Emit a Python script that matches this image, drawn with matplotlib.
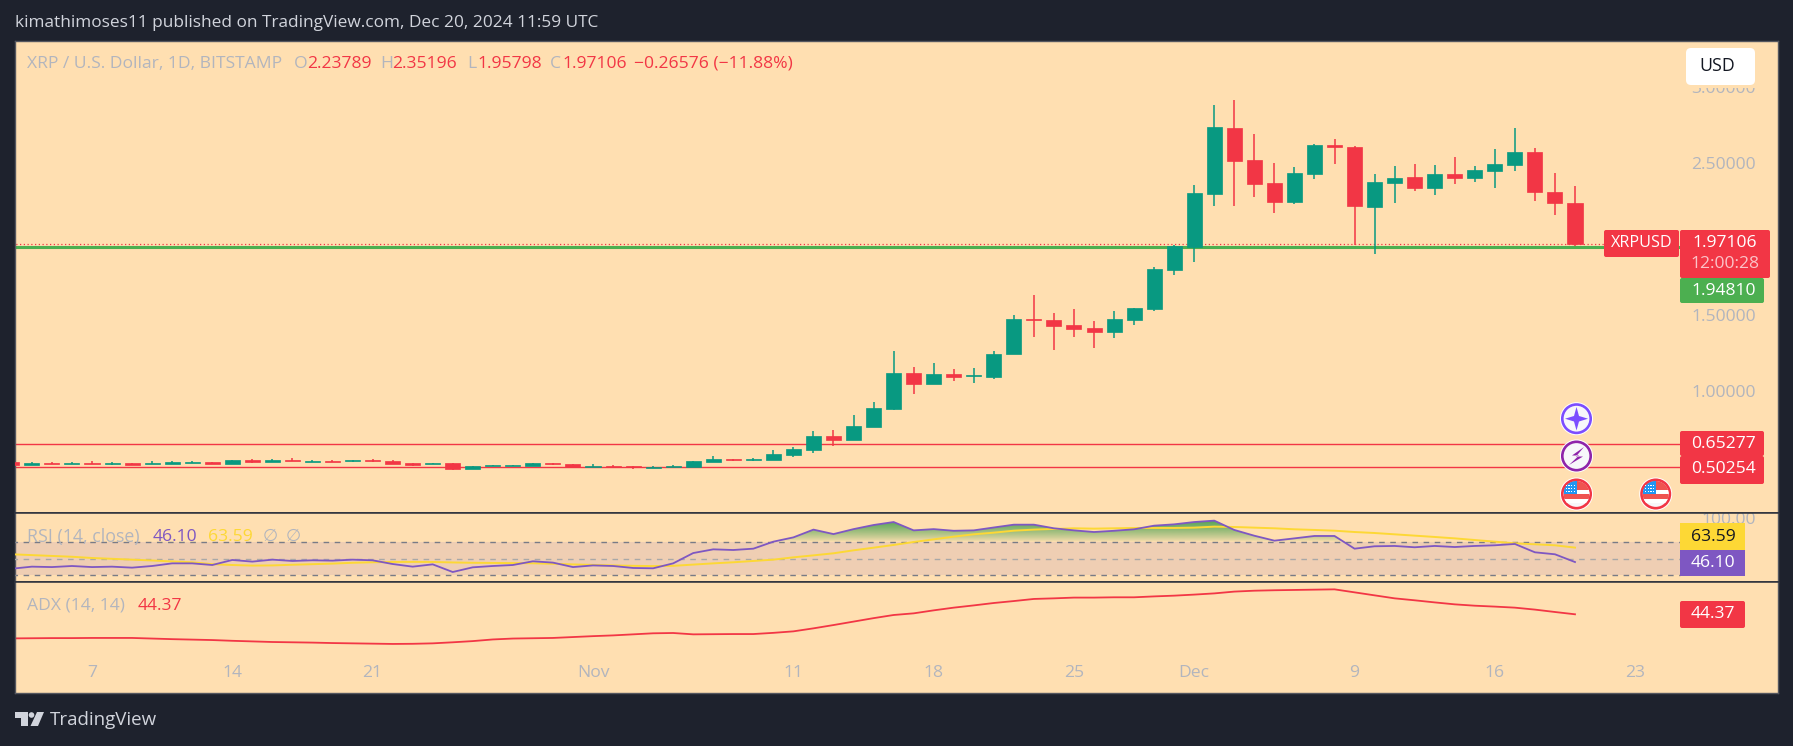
import numpy as np
import pandas as pd
import matplotlib
matplotlib.use("Agg")
import matplotlib.pyplot as plt
from matplotlib.patches import Rectangle, FancyBboxPatch, Circle, Polygon
from matplotlib.path import Path

plt.rcParams['font.family'] = ['Open Sans', 'DejaVu Sans']

# ---------- data ----------
dates = pd.date_range('2024-10-03', '2024-12-20')
opens = [.5367,.5170,.5301,.5257,.5301,.5257,.5301,.5257,.5236,.5301,.5367,.5236,.5498,.5367,.5498,.5389,.5433,.5454,.5498,.5433,
         .5301,.5257,.5301,.4907,.5126,.5126,.5104,.5301,.5236,.5038,.5104,.5104,.4995,.5017,.5038,.5367,.5564,.5520,
         .5498,.5827,.6155,.7075,.6812,.7666,.8849,1.1214,1.0492,1.1149,1.1039,1.0952,1.2463,1.4762,1.4696,1.4368,1.4171,1.3908,1.4696,1.5419,1.7981,
         1.9515,2.2975,2.7311,2.5209,2.3697,2.2449,2.4289,2.6194,2.6063,2.2120,2.3697,2.4091,2.3369,2.4289,2.4026,2.4486,2.4880,2.5734,2.3106,2.23789]
highs = [.5367,.5367,.5367,.5367,.5433,.5367,.5301,.5433,.5433,.5433,.5367,.5498,.5564,.5564,.5630,.5498,.5498,.5498,.5564,.5498,
         .5301,.5301,.5301,.5104,.5170,.5170,.5301,.5301,.5236,.5236,.5170,.5104,.5104,.5170,.5433,.5761,.5564,.5630,
         .6155,.6352,.7404,.7469,.8455,.9309,1.2660,1.1608,1.1871,1.1477,1.1543,1.2660,1.5025,1.6339,1.5156,1.5419,1.4631,1.5288,1.5485,1.8179,1.9624,
         2.3566,2.8822,2.9151,2.6917,2.5011,2.4749,2.6260,2.6588,2.6128,2.4289,2.4814,2.4946,2.4880,2.5406,2.4814,2.5931,2.7311,2.5997,2.4354,2.35196]
lows = [.5170,.5170,.5236,.5257,.5257,.5170,.5170,.5257,.5236,.5301,.5236,.5236,.5301,.5367,.5433,.5389,.5389,.5367,.5367,.5236,
        .5104,.5257,.4842,.4907,.5126,.5126,.5104,.5170,.5017,.5038,.5017,.4907,.4995,.5017,.5038,.5367,.5433,.5455,
        .5498,.5695,.5958,.6418,.6812,.7666,.8783,.9832,1.0492,1.0689,1.0558,1.0820,1.2463,1.3580,1.2725,1.3580,1.2857,1.3514,1.4368,1.5288,1.7653,
        1.8507,2.2186,2.2186,2.2778,2.1726,2.2318,2.3960,2.4946,1.9624,1.9033,2.2383,2.3172,2.2909,2.3632,2.3763,2.3369,2.4486,2.2515,2.1595,1.95798]
closes = [.5170,.5301,.5257,.5301,.5257,.5301,.5170,.5301,.5367,.5367,.5236,.5498,.5367,.5498,.5433,.5433,.5389,.5498,.5433,.5236,
          .5170,.5301,.4907,.5104,.5170,.5170,.5301,.5257,.5017,.5104,.5017,.5017,.5038,.5104,.5433,.5564,.5498,.5564,
          .5893,.6221,.7075,.6812,.7732,.8915,1.1214,1.0492,1.1149,1.0952,1.1083,1.2463,1.4762,1.4718,1.4302,1.4105,1.3908,1.4762,1.5485,1.8047,1.9558,
          2.3040,2.7377,2.5143,2.3632,2.2449,2.4354,2.6194,2.6063,2.2186,2.3763,2.4026,2.3369,2.4289,2.4026,2.4552,2.4946,2.5734,2.3106,2.2383,1.97106]
rsi = [38,40.5,40,41.3,40,40.5,39.3,41.3,44.5,44.5,42.5,48.6,46.6,49,47.4,48.2,47.8,49,48.2,43.7,40.5,43.3,34,39.7,41.3,42.5,47,45.4,40,42,41.3,38.9,38.5,44.5,57,
       61.5,60.7,62.3,70.8,76,85.4,80,86,91,94.6,84.5,86,84,84.5,88,91.4,91.4,87,84.5,82.5,84,85.8,90.2,91.8,94.6,
       96.3,85,78,72,74.8,77.7,77.7,62.3,65.2,65.6,64,65.6,64.3,65.6,66.4,68,57.9,55.5,46.10]
rsi_ma = [55.5,54.5,53.5,52.5,51,50,49,48,46.8,45.8,43.5,42.5,41.8,42,42.8,43.5,44.2,45.2,45.8,46.2,46.3,46.2,45.6,45.2,45,44.8,44.6,44,43.2,42.6,42,41.5,41.2,41.5,43,
          44.5,45.8,47.4,49,51.8,54.2,56.7,60.3,63.5,66.8,70.4,73.6,76.9,79.7,81.7,84.1,85.4,86.2,87,86.6,87,87.4,87.4,87.4,87.8,
          89,88.6,87.8,87,85.8,85,84.1,82.5,81.3,79.7,78.1,76.5,74.8,72.8,70.8,68.8,67.6,66.4,63.59]
adx = [28.3,28.4,28.5,28.5,28.6,28.6,28.6,28.2,27.8,27.5,27.2,26.7,26.3,25.9,25.7,25.5,25.2,25.0,24.8,24.6,24.7,25.0,25.7,26.5,27.6,28.2,28.4,28.6,29.2,29.8,30.3,31.0,31.7,31.9,31.0,31.1,31.2,31.2,32.0,33.0,35.0,37.2,39.5,41.8,43.9,
       45,47,48.8,50.3,51.9,53.2,54.6,55,55.5,55.5,55.7,55.7,56.3,56.8,57.5,58.3,59.5,60.1,60.4,60.6,60.8,61,59,57,55,53.7,52.3,51,50.1,49.5,48.8,47.5,45.9,44.37]
xtick_dates = ['2024-10-07','2024-10-14','2024-10-21','2024-11-01','2024-11-11','2024-11-18','2024-11-25','2024-12-01','2024-12-09','2024-12-16','2024-12-23']
xtick_labels = ['7','14','21','Nov','11','18','25','Dec','9','16','23']
price_ticks = [1.0, 1.5, 2.5, 3.0]
price_labels = ['1.00000','1.50000','2.50000','3.00000']
support_levels = [0.65277, 0.50254]
ask_level = 1.94810
last_close = 1.97106
rsi_levels = [70, 50, 30]

# ---------- style ----------
W, H = 1793, 746
DARK = '#1e222d'; BG = '#ffdfb1'; UP = '#089981'; DOWN = '#f23645'; GREY = '#b2b5be'
PURPLE = '#7e57c2'; YELLOW = '#fdd835'; LIGHT = '#d1d4dc'; LGREEN = '#4caf50'
PL, PR, PT, PB = 15, 1778, 41, 692.7
S1, S2 = 513, 582
SCALE_X = 1680
FS = 12.6
SEP = '#2a2e39'

fig = plt.figure(figsize=(W/100, H/100), dpi=100, facecolor=DARK)

def panel(top, bottom):
    a = fig.add_axes([PL/W, 1-bottom/H, (PR-PL)/W, (bottom-top)/H], facecolor=BG)
    a.set_xlim(-3.842, 84.13)
    a.set_xticks([])
    a.set_yticks([])
    for s in a.spines.values():
        s.set_color('#55575f'); s.set_linewidth(1)
    return a

days = np.asarray((dates - pd.Timestamp('2024-10-07')).days, dtype=float)
end_d = (SCALE_X - 92) / 20.04
tick_days = [(pd.Timestamp(t) - pd.Timestamp('2024-10-07')).days for t in xtick_dates]

# ---------- price pane ----------
ax = panel(PT, S1)
ax.set_ylim(0.2016, 3.3028)
ax.spines['bottom'].set_color(SEP); ax.spines['bottom'].set_linewidth(1.1)
o, h, l, c = map(np.asarray, (opens, highs, lows, closes))
cols = [UP if ci >= oi else DOWN for oi, ci in zip(o, c)]
ax.vlines(days, l, h, colors=cols, linewidth=1.1, zorder=3)
ax.bar(days, np.abs(c-o), bottom=np.minimum(o, c), width=0.75, color=cols, edgecolor=cols, linewidth=0.5, zorder=4)
ax.hlines(support_levels, -4, end_d, colors=DOWN, linewidth=1.0, zorder=2)
ax.hlines(ask_level, -4, end_d, colors=LGREEN, linewidth=2.2, zorder=2)
ax.hlines(last_close, -4, end_d, colors=DOWN, linewidth=0.9, linestyles=(0, (1, 2)), zorder=2)
ax.yaxis.tick_right()
ax.set_yticks(price_ticks, price_labels)
ax.tick_params(axis='y', length=0, pad=-16, labelcolor=GREY, labelsize=FS)
for t in ax.get_yticklabels():
    t.set_ha('right')

# ---------- RSI pane ----------
ax2 = panel(S1, S2)
ax2.set_ylim(21.9, 105.55)
ax2.spines['bottom'].set_color(SEP); ax2.spines['bottom'].set_linewidth(1.1)
ax2.spines['top'].set_color(SEP); ax2.spines['top'].set_linewidth(1.1)
ax2.fill_between([-4, end_d], rsi_levels[2], rsi_levels[0], color='#7e57c2', alpha=0.12, linewidth=0, zorder=1)
rsi_a = np.asarray(rsi)
poly = ax2.fill_between(days, rsi_a, 70, where=rsi_a > 70, interpolate=True, facecolor='none', linewidth=0)
clip = Path.make_compound_path(*poly.get_paths())
grad = np.zeros((60, 2, 4))
grad[..., :3] = matplotlib.colors.to_rgb('#3f9d4a')
grad[..., 3] = (np.linspace(0, 1, 60)[::-1] ** 0.8)[:, None]
im = ax2.imshow(grad, extent=(-4, end_d, 70, 100), aspect='auto', origin='upper', zorder=2, interpolation='bilinear')
im.set_clip_path(clip, transform=ax2.transData)
ax2.set_xlim(-3.842, 84.13); ax2.set_ylim(21.9, 105.55)
ax2.hlines(rsi_levels[0], -4, end_d, colors='#787b86', linewidth=1, linestyles=(0, (4, 4)), zorder=3)
ax2.hlines(rsi_levels[1], -4, end_d, colors='#a8a8a8', linewidth=1, linestyles=(0, (4, 4)), zorder=3)
ax2.hlines(rsi_levels[2], -4, end_d, colors='#787b86', linewidth=1, linestyles=(0, (4, 4)), zorder=3)
ax2.plot(days, rsi_ma, color=YELLOW, linewidth=1.4, zorder=4)
ax2.plot(days, rsi, color=PURPLE, linewidth=1.3, zorder=5)
ax2.yaxis.tick_right()
ax2.set_yticks([100], ['100.00'])
ax2.tick_params(axis='y', length=0, pad=-16, labelcolor=GREY, labelsize=FS)
for t in ax2.get_yticklabels():
    t.set_ha('right'); t.set_clip_box(ax2.bbox); t.set_clip_on(True)

# ---------- ADX pane ----------
ax3 = panel(S2, PB)
ax3.set_ylim(-7.9, 65.9)
ax3.spines['top'].set_color(SEP); ax3.spines['top'].set_linewidth(1.1)
ax3.plot(days, adx, color=DOWN, linewidth=1.3)
ax3.set_xticks(tick_days, xtick_labels)
ax3.tick_params(axis='x', length=0, pad=-20, labelcolor=GREY, labelsize=FS)

# ---------- overlay (labels, boxes, icons) in pixel space ----------
ov = fig.add_axes([0, 0, 1, 1], facecolor='none', zorder=10)
ov.set_xlim(0, W); ov.set_ylim(H, 0); ov.axis('off')

def T(x, y, s, color=LIGHT, size=FS, ha='left', **kw):
    return ov.text(x, y, s, color=color, fontsize=size, ha=ha, va='center', **kw)

def box(x0, y0, x1, y1, color, r=2):
    ov.add_patch(FancyBboxPatch((x0+r, y0+r), x1-x0-2*r, y1-y0-2*r, boxstyle=f'round,pad={r},rounding_size={r}',
                                facecolor=color, edgecolor='none', zorder=3))

T(15, 23, 'kimathimoses11 published on TradingView.com, Dec 20, 2024 11:59 UTC', size=12.4)
T(27, 64, 'XRP / U.S. Dollar, 1D, BITSTAMP', GREY)
for x, s, col in [(294, 'O', GREY), (307, '2.23789', DOWN), (380, 'H', GREY), (392, '2.35196', DOWN),
                  (467, 'L', GREY), (477, '1.95798', DOWN), (550, 'C', GREY), (562, '1.97106', DOWN),
                  (634, '\u22120.26576 (\u221211.88%)', DOWN)]:
    T(x, 64, s, col)

T(27, 537, 'RSI (14, close)', GREY, 12.8)
T(153, 537, '46.10', PURPLE)
T(208, 537, '63.59', YELLOW)
T(263, 537, '\u2205', GREY)
T(286, 537, '\u2205', GREY)
T(27, 606, 'ADX (14, 14)', GREY)
T(138, 606, '44.37', DOWN)

# covers the top of the 3.00000 scale label, as in the source
ov.add_patch(Rectangle((1682, 50), 92, 38, facecolor=BG, edgecolor='none', zorder=2))
box(1686, 48, 1755, 85, 'white', r=5)
T(1717, 66, 'USD', '#131722', 12.8, ha='center', zorder=4)

box(1604, 230, 1679, 257, DOWN)
T(1641.5, 243, 'XRPUSD', 'white', 11.6, ha='center', zorder=4)
box(1680, 230, 1770, 278, DOWN)
T(1725, 243, '1.97106', 'white', ha='center', zorder=4)
T(1725, 264, '12:00:28', '#fbc3c8', ha='center', zorder=4)
box(1680, 278, 1764, 303, LGREEN)
T(1724, 291, '1.94810', 'white', ha='center', zorder=4)
box(1680, 431, 1764, 456, DOWN)
T(1724, 444, '0.65277', 'white', ha='center', zorder=4)
box(1680, 456, 1764, 484, DOWN)
T(1724, 469, '0.50254', 'white', ha='center', zorder=4)
ov.add_patch(Rectangle((1680, 523), 65, 27, facecolor=YELLOW, edgecolor='none', zorder=3))
T(1713, 537, '63.59', '#131722', ha='center', zorder=4)
ov.add_patch(Rectangle((1680, 550), 65, 26, facecolor=PURPLE, edgecolor='none', zorder=3))
T(1713, 563, '46.10', 'white', ha='center', zorder=4)
box(1680, 601, 1745, 628, DOWN)
T(1713, 614.5, '44.37', 'white', ha='center', zorder=4)

# event icons
def ring(cx, cy, col):
    ov.add_patch(Circle((cx, cy), 16.5, facecolor='white', edgecolor='none', zorder=5))
    ov.add_patch(Circle((cx, cy), 14.2, facecolor='#f7f7fa', edgecolor=col, linewidth=1.9, zorder=6))

ring(1576.5, 418.7, '#7c4dff')
ov.add_patch(Polygon([(1576.5, 407), (1579, 416), (1588, 418.7), (1579, 421.5), (1576.5, 430.5),
                      (1574, 421.5), (1565, 418.7), (1574, 416)], closed=True, facecolor='#7c4dff', edgecolor='none', zorder=7))
ring(1576.5, 456, '#8e24aa')
ov.add_patch(Polygon([(1584, 447), (1572, 455.5), (1579, 455.5), (1569, 465), (1583, 456.5), (1576, 456.5)],
                     closed=True, facecolor='#8e24aa', edgecolor='none', zorder=7))

def flag(cx, cy):
    ring(cx, cy, DOWN)
    clip_c = Circle((cx, cy), 13, transform=ov.transData)
    for y0, col in [(cy-13, '#ef5350'), (cy-4, 'white'), (cy, '#ef5350'), (cy+4.5, 'white')]:
        r = Rectangle((cx-13, y0), 26, 4.5 if y0 != cy-13 else 9, facecolor=col, edgecolor='none', zorder=7)
        ov.add_patch(r); r.set_clip_path(clip_c)
    r = Rectangle((cx-13, cy-13), 13, 13, facecolor='#2196f3', edgecolor='none', zorder=8)
    ov.add_patch(r); r.set_clip_path(clip_c)
    for i in range(4):
        for j in range(3):
            ov.add_patch(Rectangle((cx-11+i*2.8, cy-9.5+j*3), 1.2, 1.2, facecolor='white', edgecolor='none', zorder=9))

flag(1576.5, 494)
flag(1655.7, 494)

# footer logo
ov.add_patch(Polygon([(15, 712), (28, 712), (28, 726), (21, 726), (21, 718), (15, 718)], closed=True, facecolor=LIGHT, edgecolor='none'))
ov.add_patch(Circle((31.5, 715), 2.8, facecolor=LIGHT, edgecolor='none'))
ov.add_patch(Polygon([(37, 712), (44, 712), (38, 726), (30.5, 726)], closed=True, facecolor=LIGHT, edgecolor='none'))
T(50, 720, 'TradingView', LIGHT, 13.5)

fig.savefig('out.png', dpi=100, facecolor=DARK)
